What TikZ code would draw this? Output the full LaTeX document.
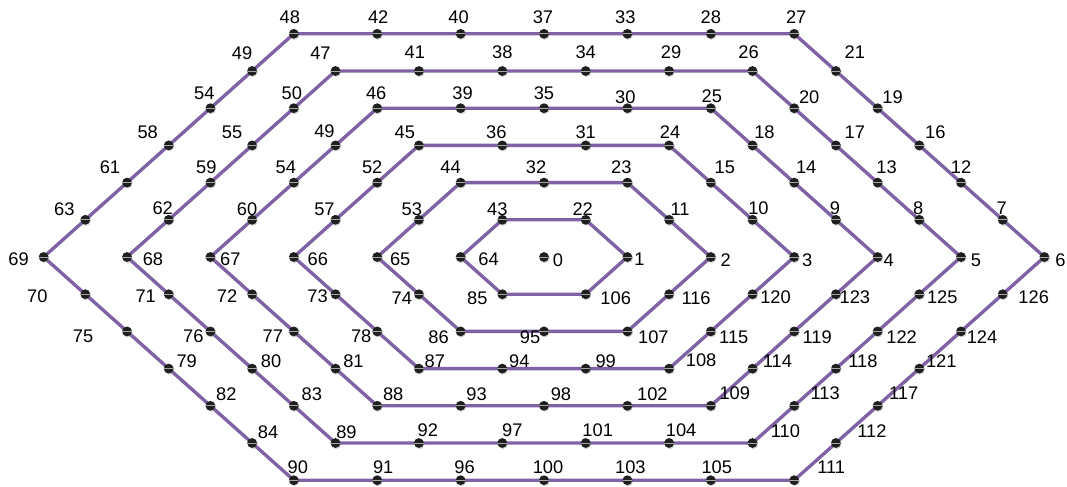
\documentclass[tikz,border=0pt]{standalone}
\usepackage{fontspec}
\setmainfont{Liberation Sans}
\usetikzlibrary{backgrounds,shadows}
\definecolor{ringpurple}{RGB}{126,98,164}
\tikzset{
    dot/.style={circle,inner sep=0pt,minimum size=0.245cm,fill=black!88,
        circular drop shadow={opacity=.35,shadow xshift=.3pt,shadow yshift=-.5pt,shadow scale=1.1},
        path picture={\draw[gray!70,line width=.6pt] (path picture bounding box.west)--(path picture bounding box.east);}},
    lbl/.style={inner sep=0pt,font=\fontsize{13}{15}\selectfont},
    ring/.style={ringpurple,line width=2.4pt,line join=round}
}
\begin{document}
\begin{tikzpicture}[x=1.0425cm,y=0.93cm]
    \useasboundingbox (-13.6cm,-5.725cm) rectangle (13.075cm,6.425cm);
    % name / i / j / text / label shift in px (x, y up)
    \foreach \n/\i/\j/\t/\dx/\dy in {
        0/0/0/0/14/-3,
        1/2/0/1/12/-2, 22/1/1/22/-3/11, 43/-1/1/43/-5/11, 64/-2/0/64/28/-2, 85/-1/-1/85/-25/-4, 106/1/-1/106/30/-4,
        2/4/0/2/15/-3, 11/3/1/11/11/11, 23/2/2/23/-6/15, 32/0/2/32/-8/15, 44/-2/2/44/-10/15, 53/-3/1/53/-7/11,
        65/-4/0/65/23/-2, 74/-3/-1/74/-17/-4, 86/-2/-2/86/-22/-6, 95/0/-2/95/-14/-6, 107/2/-2/107/26/-6, 116/3/-1/116/27/-4,
        3/6/0/3/13/-3, 10/5/1/10/6/12, 15/4/2/15/14/15, 24/3/3/24/1/13, 31/1/3/31/0/13, 36/-1/3/36/-6/13,
        45/-3/3/45/-14/13, 52/-4/2/52/-5/15, 57/-5/1/57/-11/11, 66/-6/0/66/24/-2, 73/-5/-1/73/-18/-2, 78/-4/-2/78/-16/-5,
        87/-3/-3/87/16/7, 94/-1/-3/94/17/7, 99/1/-3/99/20/7, 108/3/-3/108/32/8, 115/4/-2/115/23/-6, 120/5/-1/120/23/-3,
        4/8/0/4/11/-3, 9/7/1/9/-1/12, 14/6/2/14/12/15, 18/5/3/18/12/13, 25/4/4/25/1/12, 30/2/4/30/-2/11,
        35/0/4/35/0/15, 39/-2/4/39/2/15, 46/-4/4/46/-1/15, 49b/-5/3/49/-11/14, 54b/-6/2/54/-8/15, 60/-7/1/60/-5/11,
        67/-8/0/67/20/-2, 72/-7/-1/72/-25/-2, 77/-6/-2/77/-21/-5, 81/-5/-3/81/18/7, 88/-4/-4/88/16/12, 93/-2/-4/93/16/12,
        98/0/-4/98/17/12, 102/2/-4/102/25/12, 109/4/-4/109/24/13, 114/5/-3/114/25/7, 119/6/-2/119/23/-6, 123/7/-1/123/19/-3,
        5/10/0/5/15/-3, 8/9/1/8/-1/12, 13/8/2/13/9/15, 17/7/3/17/19/13, 20/6/4/20/15/11, 26/5/5/26/-4/19,
        29/3/5/29/2/19, 34/1/5/34/0/19, 38/-1/5/38/0/19, 41/-3/5/41/-4/19, 47/-5/5/47/-15/18, 50/-6/4/50/-2/15,
        55/-7/3/55/-20/13, 59/-8/2/59/-4/15, 62/-9/1/62/-6/12, 68/-10/0/68/26/-2, 71/-9/-1/71/-23/-2, 76/-8/-2/76/-17/-5,
        80/-7/-3/80/19/7, 83/-6/-4/83/18/12, 89/-5/-5/89/11/11, 92/-3/-5/92/9/13, 97/-1/-5/97/10/13, 101/1/-5/101/12/13,
        104/3/-5/104/12/13, 110/5/-5/110/33/12, 113/6/-4/113/31/13, 118/7/-3/118/27/7, 122/8/-2/122/24/-6, 125/9/-1/125/23/-3,
        6/12/0/6/16/-3, 7/11/1/7/-1/12, 12/10/2/12/0/15, 16/9/3/16/16/13, 19/8/4/19/15/11, 21/7/5/21/19/19,
        27/6/6/27/2/17, 28/4/6/28/0/17, 33/2/6/33/-2/17, 37/0/6/37/-1/17, 40/-2/6/40/-2/17, 42/-4/6/42/1/17,
        48/-6/6/48/-4/17, 49/-7/5/49/-10/18, 54/-8/4/54/-6/15, 58/-9/3/58/-21/13, 61/-10/2/61/-17/15, 63/-11/1/63/-21/11,
        69/-12/0/69/-25/-2, 70/-11/-1/70/-48/-2, 75/-10/-2/75/-44/-5, 79/-9/-3/79/18/7, 82/-8/-4/82/16/12, 84/-7/-5/84/16/11,
        90/-6/-6/90/4/13, 91/-4/-6/91/6/13, 96/-2/-6/96/4/13, 100/0/-6/100/4/13, 103/2/-6/103/3/13, 105/4/-6/105/6/13,
        111/6/-6/111/37/13, 112/7/-5/112/36/12, 117/8/-4/117/26/13, 121/9/-3/121/22/7, 124/10/-2/124/21/-6, 126/11/-1/126/31/-3}
    {
        \node[dot] (v\n) at (\i,\j) {};
        \node[lbl,xshift=\dx*0.025cm,yshift=\dy*0.025cm] (l\n) at (v\n) {\t};
    }
    % the six rings, through their corners
    \begin{scope}[on background layer]
        \foreach \k in {1,...,6}{
            \pgfmathtruncatemacro\a{21+\k}
            \pgfmathtruncatemacro\b{42+\k}
            \pgfmathtruncatemacro\c{63+\k}
            \pgfmathtruncatemacro\d{84+\k}
            \pgfmathtruncatemacro\e{105+\k}
            \draw[ring] (v\k.center)--(v\a.center)--(v\b.center)--(v\c.center)--(v\d.center)--(v\e.center)--cycle;
        }
    \end{scope}
\end{tikzpicture}
\end{document}
